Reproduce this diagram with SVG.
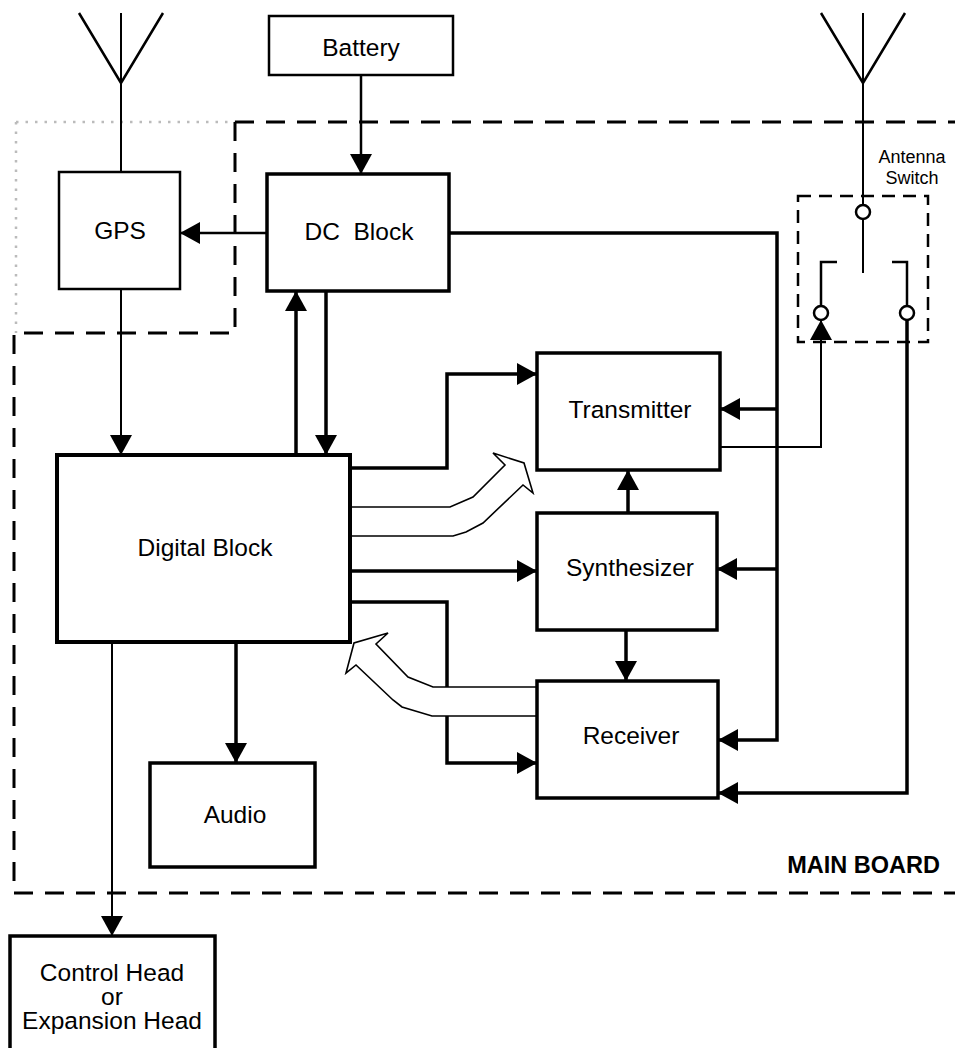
<svg xmlns="http://www.w3.org/2000/svg" width="955" height="1048" viewBox="0 0 955 1048">
<style>
  text { font-family: "Liberation Sans", Arial, Helvetica, sans-serif; fill: #000; }
  .lbl { font-size: 24.5px; text-anchor: middle; }
  .small { font-size: 18px; text-anchor: middle; }
  .board { font-size: 23.5px; font-weight: bold; text-anchor: end; }
  .box { fill: #fff; stroke: #000; stroke-width: 3.5; }
  .box-thin { fill: #fff; stroke: #000; stroke-width: 2.5; }
  .box-heavy { fill: #fff; stroke: #000; stroke-width: 4; }
  .thick { fill: none; stroke: #000; stroke-width: 3.5; }
  .thin { fill: none; stroke: #000; stroke-width: 2; }
  .mid { fill: none; stroke: #000; stroke-width: 2.5; }
  .dash { fill: none; stroke: #000; stroke-width: 3; stroke-dasharray: 19 12; }
  .dash-sw { fill: none; stroke: #000; stroke-width: 2.5; stroke-dasharray: 13 8; }
  .dots { fill: none; stroke: #bbb; stroke-width: 2.5; stroke-dasharray: 2.5 7; }
  .hollow { fill: #fff; stroke: #000; stroke-width: 1.6; stroke-linejoin: miter; }
  .contact { fill: #fff; stroke: #000; stroke-width: 2.5; }
</style>
<defs>
  <marker id="ah" markerUnits="userSpaceOnUse" markerWidth="22" markerHeight="22" viewBox="0 0 20 22" refX="19" refY="11" orient="auto">
    <path d="M0,0 L20,11 L0,22 z" fill="#000"/>
  </marker>
</defs>

<!-- boundaries -->
<g id="boundaries">
  <path class="dots" d="M16,122 H235 M16,122 V333"/>
  <path class="dash" d="M235,122 H955"/>
  <path class="dash" d="M235,122 V333 H14 V893 H955"/>
</g>

<!-- antennas -->
<g id="gps-antenna">
  <path class="mid" d="M79,13 L121,83 L163,13"/>
  <path class="thin" d="M121,13 V172"/>
</g>
<g id="main-antenna">
  <path class="mid" d="M821,13 L863,83 L905,13"/>
  <path class="thin" d="M863,13 V205 M863,219 V273"/>
</g>

<!-- connectors -->
<g id="connectors">
  <path class="mid" d="M361,75 V173" marker-end="url(#ah)"/>
  <path class="mid" d="M267,233 H181" marker-end="url(#ah)"/>
  <path class="thin" d="M121,289 V454" marker-end="url(#ah)"/>
  <path class="thick" d="M296,455 V292" marker-end="url(#ah)"/>
  <path class="thick" d="M326,291 V454" marker-end="url(#ah)"/>
  <path class="thick" d="M350,468 H447 V374 H536" marker-end="url(#ah)"/>
  <path class="thick" d="M350,571 H536" marker-end="url(#ah)"/>
  <path class="thick" d="M350,602 H447 V763 H536" marker-end="url(#ah)"/>
  <path class="thick" d="M236,643 V762" marker-end="url(#ah)"/>
  <path class="thin" d="M112,643 V935" marker-end="url(#ah)"/>
  <path class="thick" d="M628,513 V471" marker-end="url(#ah)"/>
  <path class="thick" d="M626,630 V680" marker-end="url(#ah)"/>
  <path class="thick" d="M449,233 H777 V740 H719" marker-end="url(#ah)"/>
  <path class="thick" d="M777,409 H721" marker-end="url(#ah)"/>
  <path class="thick" d="M777,569 H718" marker-end="url(#ah)"/>
  <path class="thick" d="M907,320 V793 H719" marker-end="url(#ah)"/>
  <path class="thin" d="M720,447 H821 V321" marker-end="url(#ah)"/>
  <!-- hollow data arrows -->
  <polygon class="hollow" points="350,507 450,507 473,497 505,465 493,453 524,463 533,493 523,485 483,523 466,532 453,536 350,536"/>
  <polygon class="hollow" points="537,687 433,687 408,677 376,644 388,633 354,643 346,673 356,665 393,700 402,707 432,716 537,716"/>
</g>

<!-- antenna switch -->
<g id="antenna-switch">
  <rect class="dash-sw" x="798" y="196" width="130" height="146"/>
  <path class="mid" d="M837,262 H821 V306 M892,262 H907 V306"/>
  <circle class="contact" cx="863" cy="212" r="7"/>
  <circle class="contact" cx="821" cy="313" r="7"/>
  <circle class="contact" cx="907" cy="313" r="7"/>
  <text class="small" x="912" y="163">Antenna<tspan x="912" dy="21">Switch</tspan></text>
</g>

<g id="battery">
  <rect class="box-thin" x="269" y="16" width="184" height="59"/>
  <text class="lbl" x="361" y="56">Battery</text>
</g>
<g id="gps">
  <rect class="box-thin" x="59" y="172" width="121" height="117"/>
  <text class="lbl" x="120" y="239">GPS</text>
</g>
<g id="dc-block">
  <rect class="box" x="267" y="174" width="182" height="117"/>
  <text class="lbl" x="359" y="240" xml:space="preserve">DC  Block</text>
</g>
<g id="digital-block">
  <rect class="box-heavy" x="57" y="455" width="293" height="187"/>
  <text class="lbl" x="205" y="556">Digital Block</text>
</g>
<g id="transmitter">
  <rect class="box" x="537" y="353" width="183" height="117"/>
  <text class="lbl" x="630" y="418">Transmitter</text>
</g>
<g id="synthesizer">
  <rect class="box" x="537" y="513" width="180" height="117"/>
  <text class="lbl" x="630" y="576">Synthesizer</text>
</g>
<g id="receiver">
  <rect class="box" x="537" y="681" width="181" height="117"/>
  <text class="lbl" x="631" y="744">Receiver</text>
</g>
<g id="audio">
  <rect class="box" x="150" y="763" width="165" height="104"/>
  <text class="lbl" x="235" y="823">Audio</text>
</g>
<g id="control-head">
  <rect class="box" x="10" y="936" width="205" height="140"/>
  <text class="lbl" x="112" y="981">Control Head<tspan x="112" dy="24">or</tspan><tspan x="112" dy="24">Expansion Head</tspan></text>
</g>
<g id="main-board-label">
  <text class="board" x="940" y="873">MAIN BOARD</text>
</g>
</svg>
